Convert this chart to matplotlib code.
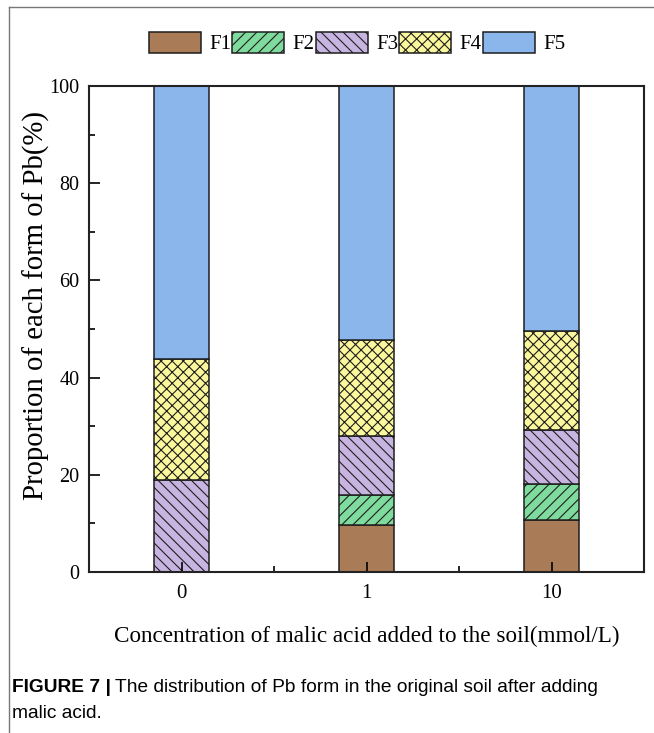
import matplotlib
matplotlib.use("Agg")
import matplotlib.pyplot as plt
from matplotlib.lines import Line2D
from matplotlib.ticker import MultipleLocator
import numpy as np

categories = ["0", "1", "10"]
F1 = [0.0, 9.6, 10.6]
F2 = [0.0, 6.3, 7.6]
F3 = [18.9, 12.0, 11.1]
F4 = [24.9, 19.8, 20.3]
F5 = [56.3, 52.3, 50.4]
series_names = ["F1", "F2", "F3", "F4", "F5"]
colors = ["#a97b57", "#7fdb9d", "#c8b4e0", "#fbf79c", "#8ab6ec"]
hatches = ["", "///", "\\\\\\", "xxx", ""]

plt.rcParams['font.family'] = ['Liberation Serif', 'DejaVu Serif']
plt.rcParams['hatch.linewidth'] = 0.8

fig = plt.figure(figsize=(6.54, 7.33), dpi=100)
ax = fig.add_axes([89/654, 1-572/733, (644-89)/654, (572-86)/733])

x = np.arange(len(categories))
bottom = np.zeros(len(categories))
handles = []
for name, vals, c, h in zip(series_names, [F1, F2, F3, F4, F5], colors, hatches):
    vals = np.array(vals)
    b = ax.bar(x, vals, 0.30, bottom=bottom, color=c, edgecolor="#1e1e1e",
               hatch=h, linewidth=1.1, label=name)
    handles.append(b)
    bottom += vals

ax.set_xlim(-0.5, 2.5)
ax.set_ylim(0, 100)
ax.set_xticks(x)
ax.set_xticklabels(categories, fontsize=15)
ax.xaxis.set_minor_locator(MultipleLocator(0.5))
ax.yaxis.set_major_locator(MultipleLocator(20))
ax.yaxis.set_minor_locator(MultipleLocator(10))
ax.tick_params(axis='x', which='major', direction='in', length=7, width=1.2, pad=9)
ax.tick_params(axis='x', which='minor', direction='in', length=4, width=1.2)
ax.tick_params(axis='y', which='major', direction='in', length=8, width=1.2, labelsize=14.5, pad=7)
ax.tick_params(axis='y', which='minor', direction='in', length=4, width=1.2)
for s in ax.spines.values():
    s.set_linewidth(1.5)
    s.set_color("#222222")

ax.set_ylabel("Proportion of each form of Pb(%)", fontsize=20.7)
ax.yaxis.set_label_coords((50-89)/555, (572-306)/486)
ax.set_xlabel("Concentration of malic acid added to the soil(mmol/L)", fontsize=16.7, labelpad=16)

fig.legend(handles=handles, labels=series_names, loc='center', ncol=5,
           bbox_to_anchor=(357/654, 1-43/733), frameon=False, fontsize=15,
           handlelength=2.5, handleheight=1.2, handletextpad=0.4,
           columnspacing=0.05)

# outer border lines
fig.add_artist(Line2D([9/654, 9/654], [0, 1-7/733], color="#777777", lw=1.0, transform=fig.transFigure))
fig.add_artist(Line2D([9/654, 1], [1-7/733, 1-7/733], color="#777777", lw=1.0, transform=fig.transFigure))

cap_fs = 13.8
t1 = fig.text(12/654, 1-687/733, "FIGURE 7 |", fontsize=cap_fs, family='Liberation Sans',
              fontweight='bold', va='center', ha='left')
fig.canvas.draw()
bb = t1.get_window_extent()
fig.text((bb.x1 + 4)/654, 1-687/733, "The distribution of Pb form in the original soil after adding",
         fontsize=cap_fs, family='Liberation Sans', va='center', ha='left')
fig.text(12/654, 1-713/733, "malic acid.", fontsize=cap_fs, family='Liberation Sans', va='center', ha='left')
fig.savefig("out.png", dpi=100)
